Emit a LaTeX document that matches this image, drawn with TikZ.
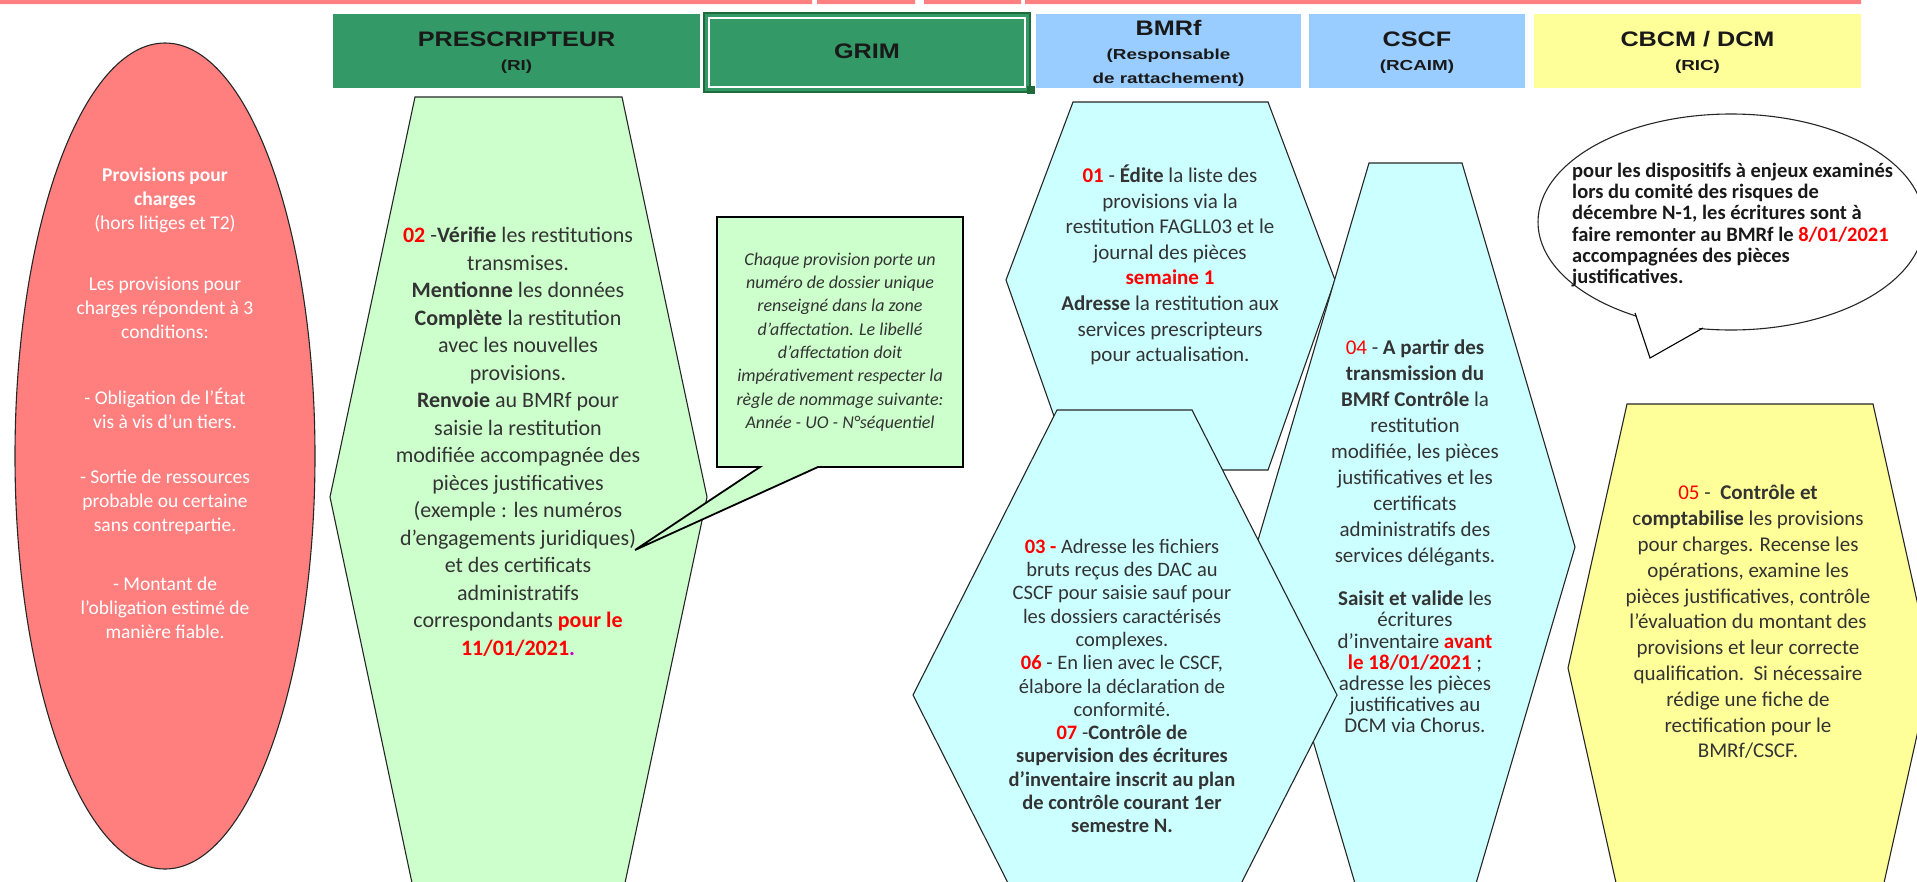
\documentclass[tikz,border=0pt]{standalone}
\usepackage{fontspec}
\setmainfont{Carlito}
\newfontfamily\headfont{Liberation Sans}[FakeStretch=1.2]
\newfontfamily\subheadfont{Liberation Sans}[FakeStretch=1.3]

\definecolor{topstrip}{HTML}{FF8080}
\definecolor{hdrgreen}{HTML}{339966}
\definecolor{grimdark}{HTML}{1E6B3C}
\definecolor{hdrblue}{HTML}{99CCFF}
\definecolor{hdryellow}{HTML}{FFFF99}
\definecolor{salmon}{HTML}{FF7F7F}
\definecolor{mint}{HTML}{CCFFCC}
\definecolor{paleblue}{HTML}{CCFFFF}
\definecolor{paleyellow}{HTML}{FFFF99}
\definecolor{stepred}{HTML}{FF0000}
\definecolor{bodytext}{HTML}{333333}
\definecolor{dotmagenta}{HTML}{CC00CC}

\newcommand{\fz}[2]{\fontsize{#1}{#2}\selectfont}
\newcommand{\rd}[1]{\textcolor{stepred}{#1}}

\tikzset{
  hdrbox/.style={inner sep=0pt, outer sep=0pt, draw=none},
  htitle/.style={inner sep=0pt, text=black!90, font=\headfont\bfseries\fz{21}{24}},
  hsub/.style={inner sep=0pt, text=black!90, font=\subheadfont\bfseries\fz{14.5}{16}},
  body/.style={inner sep=0pt, align=center, text=bodytext},
  hexshape/.style={draw=black!85, line width=1.1, line join=miter},
  oval/.style={draw=black!85, line width=1.1}
}

\begin{document}
\begin{tikzpicture}[x=1pt,y=-1pt]
\useasboundingbox (0,0) rectangle (1917,881);
\clip (0,0) rectangle (1917,881);

% thin strip along the top edge
\fill[topstrip] (0,0) rectangle (812,4) (817,0) rectangle (915,4)
  (924,0) rectangle (1021,4) (1025,0) rectangle (1861,4);

% column headers
\node[hdrbox, fill=hdrgreen, minimum width=367, minimum height=74] (hPresc) at (516.5,51) {};
\node[hdrbox, fill=hdrgreen, draw=grimdark, line width=2.2, minimum width=326, minimum height=79] (hGrim) at (867,52.5) {};
\draw[white, line width=1.3] (709,18) rectangle (1025,87);
\fill[grimdark] (1027,86) rectangle (1035,94);
\node[hdrbox, fill=hdrblue, minimum width=265, minimum height=74] (hBmrf) at (1168.5,51) {};
\node[hdrbox, fill=hdrblue, minimum width=216, minimum height=74] (hCscf) at (1417,51) {};
\node[hdrbox, fill=hdryellow, minimum width=327, minimum height=74] (hCbcm) at (1697.5,51) {};

\node[htitle] (tPresc) at (516.5,39) {PRESCRIPTEUR};
\node[hsub] (sPresc) at (516.5,67) {(RI)};
\node[htitle] (tGrim) at (867,51) {GRIM};
\node[htitle] (tBmrf) at (1168.5,28) {BMRf};
\node[hsub] (sBmrf1) at (1168.5,56) {(Responsable};
\node[hsub] (sBmrf2) at (1168.5,80) {de rattachement)};
\node[htitle] (tCscf) at (1417,39) {CSCF};
\node[hsub] (sCscf) at (1417,67) {(RCAIM)};
\node[htitle] (tCbcm) at (1697.5,39) {CBCM / DCM};
\node[hsub] (sCbcm) at (1697.5,67) {(RIC)};

% left oval: definition of provisions for charges
\draw[oval, fill=salmon] (165,456) ellipse [x radius=150, y radius=413];
\begin{scope}[every node/.style={body, text=white, font=\fz{19.5}{24}}]
  \node (ovA) at (165,200) {\textbf{Provisions pour}\\\textbf{charges}\\(hors litiges et T2)};
  \node (ovB) at (165,308) {Les provisions pour\\charges répondent à 3\\conditions:};
  \node (ovC) at (165,408) {- Obligation de l'État\\vis à vis d'un tiers.};
  \node (ovD) at (165,502) {- Sortie de ressources\\probable ou certaine\\sans contrepartie.};
  \node (ovE) at (165,608) {- Montant de\\l'obligation estimé de\\manière fiable.};
\end{scope}

% step 02 (prescripteur)
\draw[hexshape, fill=mint] (415,97) -- (622,97) -- (707,497) -- (622,897)
  -- (415,897) -- (330,497) -- cycle;
\node[body, font=\fz{22}{27.5}] (s02) at (518,442) {%
  \textbf{\rd{02}} -\textbf{Vérifie} les restitutions\\
  transmises.\\
  \textbf{Mentionne} les données\\
  \textbf{Complète} la restitution\\
  avec les nouvelles\\
  provisions.\\
  \textbf{Renvoie} au BMRf pour\\
  saisie la restitution\\
  modifiée accompagnée des\\
  pièces justificatives\\
  (exemple : les numéros\\
  d'engagements juridiques)\\
  et des certificats\\
  administratifs\\
  correspondants \textbf{\rd{pour le}}\\
  \textbf{\rd{11/01/2021}\textcolor{dotmagenta}{.}}};

% GRIM note with its pointer
\draw[line width=1.8, fill=mint, line join=miter] (717,217) -- (963,217) -- (963,467)
  -- (818,467) -- (635,550) -- (760,467) -- (717,467) -- cycle;
\node[body, font=\itshape\fz{18}{23.3}] (note) at (840,342) {%
  Chaque provision porte un\\
  numéro de dossier unique\\
  renseigné dans la zone\\
  d'affectation. Le libellé\\
  d'affectation doit\\
  impérativement respecter la\\
  règle de nommage suivante:\\
  Année - UO - N°séquentiel};

% step 01 (BMRf)
\draw[hexshape, fill=paleblue] (1073,102) -- (1268,102) -- (1335,280) -- (1268,470)
  -- (1073,470) -- (1006,280) -- cycle;
\node[body, font=\fz{21}{25.6}] (s01) at (1170,265) {%
  \textbf{\rd{01}} - \textbf{Édite} la liste des\\
  provisions via la\\
  restitution FAGLL03 et le\\
  journal des pièces\\
  \textbf{\rd{semaine 1}}\\
  \textbf{Adresse} la restitution aux\\
  services prescripteurs\\
  pour actualisation.};

% step 04 (CSCF)
\draw[hexshape, fill=paleblue] (1369,163) -- (1462,163) -- (1575,547) -- (1462,931)
  -- (1369,931) -- (1256,547) -- cycle;
\node[body, font=\fz{21}{26}] (s04a) at (1415,453) {%
  \rd{04} - \textbf{A partir des}\\
  \textbf{transmission du}\\
  \textbf{BMRf Contrôle} la\\
  restitution\\
  modifiée, les pièces\\
  justificatives et les\\
  certificats\\
  administratifs des\\
  services délégants.};
\node[body, font=\fz{21}{21.2}] (s04b) at (1415,662) {%
  \textbf{Saisit et valide} les\\
  écritures\\
  d'inventaire \textbf{\rd{avant}}\\
  \textbf{\rd{le 18/01/2021}} ;\\
  adresse les pièces\\
  justificatives au\\
  DCM via Chorus.};

% steps 03, 06, 07 (BMRf)
\draw[hexshape, fill=paleblue] (1057,410) -- (1192,410) -- (1337,695) -- (1192,980)
  -- (1057,980) -- (913,695) -- cycle;
\node[body, font=\fz{20.5}{23.3}] (s03) at (1122,686) {%
  \textbf{\rd{03 -}} Adresse les fichiers\\
  bruts reçus des DAC au\\
  CSCF pour saisie sauf pour\\
  les dossiers caractérisés\\
  complexes.\\
  \textbf{\rd{06}} - En lien avec le CSCF,\\
  élabore la déclaration de\\
  conformité.\\
  \textbf{\rd{07}} -\textbf{Contrôle de}\\
  \textbf{supervision des écritures}\\
  \textbf{d'inventaire inscrit au plan}\\
  \textbf{de contrôle courant 1er}\\
  \textbf{semestre N.}};

% step 05 (CBCM / DCM)
\draw[hexshape, fill=paleyellow] (1627,404) -- (1873,404) -- (1932,668) -- (1873,932)
  -- (1627,932) -- (1568,668) -- cycle;
\node[body, font=\fz{21}{25.8}] (s05) at (1748,622) {%
  \rd{05} -\ \ \textbf{Contrôle et}\\
  c\textbf{omptabilise} les provisions\\
  pour charges. Recense les\\
  opérations, examine les\\
  pièces justificatives, contrôle\\
  l'évaluation du montant des\\
  provisions et leur correcte\\
  qualification.\ \ Si nécessaire\\
  rédige une fiche de\\
  rectification pour le\\
  BMRf/CSCF.};

% speech bubble about the risk committee
\fill[white] (1731,222) ellipse [x radius=193, y radius=108];
\draw[oval] (1731,222) ellipse [x radius=193, y radius=108];
\fill[white] (1635,311) -- (1650,358) -- (1703,326) -- cycle;
\coordinate (bubA) at (1635,313);
\coordinate (bubTip) at (1650,358);
\coordinate (bubB) at (1703,328);
\draw[line width=1.1, line join=miter] (bubA) -- (bubTip) -- (bubB);
\node[inner sep=0pt, align=left, anchor=west, text=black!90, font=\bfseries\fz{20.5}{21.1}] (bub) at (1572,225) {%
  pour les dispositifs à enjeux examinés\\
  lors du comité des risques de\\
  décembre N-1, les écritures sont à\\
  faire remonter au BMRf le \rd{8/01/2021}\\
  accompagnées des pièces\\
  justificatives.};

\end{tikzpicture}
\end{document}
